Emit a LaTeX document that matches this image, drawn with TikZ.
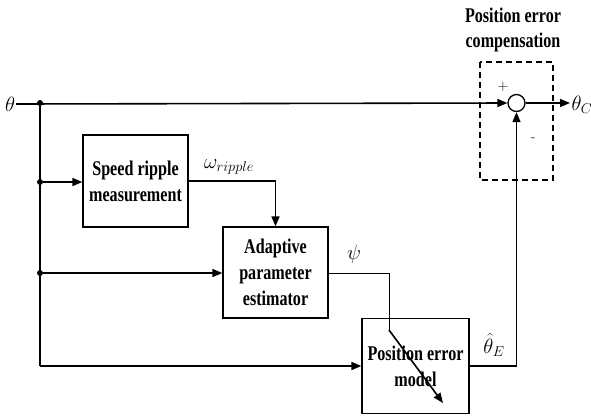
\documentclass[tikz,border=0pt]{standalone}
\usepackage{fontspec}
\usepackage{amsmath}
\newfontfamily\blkfont[FakeStretch=0.77]{Liberation Serif}
\usetikzlibrary{arrows.meta, positioning}

\begin{document}
\begin{tikzpicture}[x=1bp, y=-1bp,
  blk/.style={draw, line width=1.3bp, minimum width=105bp, minimum height=92bp,
    align=center, font=\blkfont\bfseries\fontsize{21}{26}\selectfont},
  sig/.style={line width=1.6bp},
  arr/.style={sig, -{Triangle[length=10bp, width=8bp]}},
  dot/.style={circle, fill, inner sep=0pt, minimum size=6bp},
  lbl/.style={inner sep=0pt, font=\fontsize{20}{20}\selectfont}]
\useasboundingbox (0,0) rectangle (591,415);
% blocks
\node (speed) at (135.5,181) [blk] {Speed ripple\\measurement};
\node (adapt) at (275.5,272.5) [blk, minimum height=91bp] {Adaptive\\parameter\\estimator};
\node (posm) at (415.5,366) [blk, minimum width=107bp, minimum height=95bp] {Position error\\model};
\node (sum) at (516.5,103) [circle, draw, line width=1.3bp, minimum size=17bp, inner sep=0pt] {};
\draw [dash pattern=on 6bp off 4bp, line width=1.2bp] (480,62) rectangle (553,180);
\node (title) at (513,30) [align=center, font=\blkfont\bfseries\fontsize{21}{25}\selectfont] {Position error\\compensation};
% signals
\node (theta) at (10,104) [lbl, inner sep=1bp] {$\theta$};
\node (j1) at (40,103) [dot] {};
\node (j2) at (40,182) [dot] {};
\node (j3) at (40,273) [dot] {};
\coordinate (cbot) at (40,366);
\coordinate (pk1) at (389,273);
\coordinate (pk2) at (389,330);
\coordinate (ptip) at (443,403);
\coordinate (out) at (570,103);
\draw [arr] (theta.east) -- (sum.west);
\draw [sig] (j1) -- (cbot);
\draw [arr] (cbot) -- (posm.west);
\draw [arr] (j2) -- (j2 -| speed.west);
\draw [arr] (j3) -- (j3 -| adapt.west);
\draw [arr] (speed.east) -| (adapt.north);
\draw [line width=1bp] (adapt.east |- pk1) -- (pk1) -- (pk2);
\draw [arr] (pk2) -- (ptip);
\draw [arr] (posm.east) -| (sum.south);
\draw [arr] (sum.east) -- (out);
% labels
\node at (229,167) [lbl] {$\omega_{ripple}$};
\node at (354,254) [lbl] {$\psi$};
\node at (494,345) [lbl] {$\hat{\theta}_E$};
\node at (582,105) [lbl] {$\theta_C$};
\node at (503,87) [font=\fontsize{15}{15}\selectfont] {+};
\node at (533,140) [font=\fontsize{15}{15}\selectfont] {-};
\end{tikzpicture}
\end{document}
